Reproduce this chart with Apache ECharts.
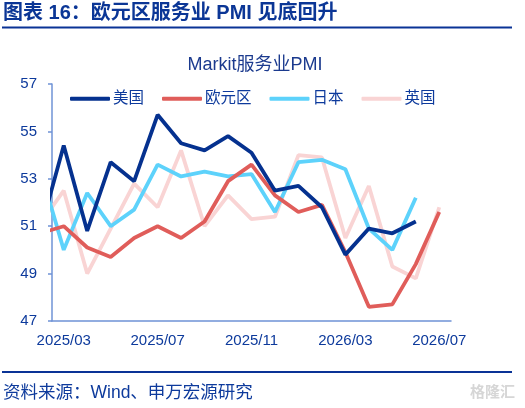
<!DOCTYPE html>
<html>
<head>
<meta charset="utf-8">
<script src="https://cdn.jsdelivr.net/npm/echarts@6/dist/echarts.min.js"></script>
<style>
  html, body { margin: 0; padding: 0; background: #fff; }
  #main { width: 525px; height: 408px; }
</style>
</head>
<body>
<div id="main"></div>
<script>
//月份（含被裁掉的 2025/02 起点）
var months = ["2025/02", "2025/03", "2025/04", "2025/05", "2025/06", "2025/07", "2025/08", "2025/09",
    "2025/10", "2025/11", "2025/12", "2026/01", "2026/02", "2026/03", "2026/04", "2026/05", "2026/06", "2026/07"];
//x轴显示的类目
var axisMonths = months.slice(1);

var usPMI = [50.8, 54.4, 50.8, 53.7, 52.9, 55.7, 54.5, 54.2, 54.8, 54.1, 52.5, 52.7, 51.8, 49.8, 50.9, 50.7, 51.2, null];
var ezPMI = [50.7, 51.0, 50.1, 49.7, 50.5, 51.0, 50.5, 51.2, 52.9, 53.6, 52.3, 51.6, 51.9, 49.9, 47.6, 47.7, 49.4, 51.6];
var jpPMI = [53.4, 50.0, 52.4, 51.0, 51.7, 53.6, 53.1, 53.3, 53.1, 53.2, 51.6, 53.7, 53.8, 53.4, 50.9, 50.0, 52.2, null];
var ukPMI = [51.1, 52.5, 49.0, 50.9, 52.8, 51.8, 54.2, 51.0, 52.3, 51.3, 51.4, 54.0, 53.9, 50.5, 52.7, 49.3, 48.8, 51.8];

var fontFamily = '"Liberation Sans", "Noto Sans CJK SC", sans-serif';
var blueText = "#0d3a9c";

//月份 -> 类目轴上的月中位置
function toPoints(values) {
    var arr = [];
    for (var i = 0; i < months.length; i++) {
        if (values[i] == null) continue;
        var p = months[i].split("/");
        var idx = (Number(p[0]) - 2025) * 12 + Number(p[1]) - 3;
        arr.push([idx + 0.5, values[i]]);
    }
    return arr;
}

function makeLine(name, values, color) {
    return {
        name: name,
        type: 'line',
        xAxisIndex: 1,
        data: toPoints(values),
        symbol: 'none',
        clip: true,
        lineStyle: { color: color, width: 3.8 },
        itemStyle: { color: color }
    };
}

var myChart = echarts.init(document.getElementById('main'));

var option = {
    backgroundColor: '#fff',
    animation: false,
    title: [
        {
            text: '图表 16：欧元区服务业 PMI 见底回升',
            left: 3, top: 3, padding: 0,
            textStyle: { color: '#0b3696', fontSize: 20, fontWeight: 'bold', fontFamily: fontFamily }
        },
        {
            text: 'Markit服务业PMI',
            left: 255, top: 56, textAlign: 'center', padding: 0,
            textStyle: { color: '#1b3a8e', fontSize: 18, fontWeight: 'normal', fontFamily: fontFamily }
        },
        {
            text: '资料来源：Wind、申万宏源研究',
            left: 3, top: 384, padding: 0,
            textStyle: { color: blueText, fontSize: 17.5, fontWeight: 'normal', fontFamily: fontFamily }
        },
        {
            text: '格隆汇',
            left: 470, top: 385, padding: 0,
            textStyle: { color: '#d6d6d6', fontSize: 15, fontWeight: 'bold', fontFamily: fontFamily }
        }
    ],
    graphic: [
        { type: 'line', shape: { x1: 2, y1: 27.5, x2: 512, y2: 27.5 }, style: { stroke: '#0a3396', lineWidth: 2 } },
        { type: 'line', shape: { x1: 2, y1: 372, x2: 512, y2: 372 }, style: { stroke: '#0a3396', lineWidth: 2 } }
    ],
    legend: {
        top: 86,
        left: 65,
        itemWidth: 40,
        itemHeight: 4,
        itemGap: 18,
        icon: 'roundRect',
        textStyle: { color: blueText, fontSize: 15.5, fontFamily: fontFamily, padding: [0, 0, 0, -2] },
        data: ['美国', '欧元区', '日本', '英国']
    },
    grid: { left: 52, right: 74, top: 84, bottom: 87 },
    xAxis: [
        {
            type: 'category',
            data: axisMonths,
            boundaryGap: true,
            axisLine: { lineStyle: { color: '#6f93d6', width: 1.5 } },
            axisTick: { interval: 3, length: 4, lineStyle: { color: '#6f93d6', width: 1.5 } },
            axisLabel: { interval: 3, color: blueText, fontSize: 15, fontFamily: fontFamily, margin: 12 },
            splitLine: { show: false }
        },
        {
            type: 'value',
            min: 0,
            max: axisMonths.length,
            show: false,
            splitLine: { show: false }
        }
    ],
    yAxis: {
        type: 'value',
        min: 47,
        max: 57,
        interval: 2,
        axisLine: { show: true, lineStyle: { color: '#6f93d6', width: 1.5 } },
        axisTick: { show: true, length: 4, lineStyle: { color: '#6f93d6', width: 1.5 } },
        axisLabel: { color: blueText, fontSize: 15, fontFamily: fontFamily, margin: 15 },
        splitLine: { show: false }
    },
    series: [
        makeLine('英国', ukPMI, '#f9d4d4'),
        makeLine('日本', jpPMI, '#5dd2fb'),
        makeLine('欧元区', ezPMI, '#e05d5a'),
        makeLine('美国', usPMI, '#05318f')
    ]
};

myChart.setOption(option);
</script>
</body>
</html>
